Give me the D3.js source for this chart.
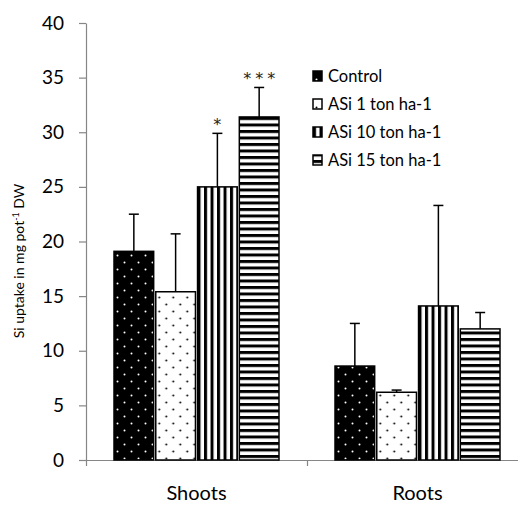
<!DOCTYPE html>
<html><head><meta charset="utf-8">
<script src="https://cdn.jsdelivr.net/npm/d3@7"></script>
<style>body{margin:0;background:#fff}svg{display:block}</style></head>
<body>
<svg id="c" width="518" height="508"></svg>
<script>
const categories = ["Shoots", "Roots"];
const seriesNames = ["Control", "ASi 1 ton ha-1", "ASi 10 ton ha-1", "ASi 15 ton ha-1"];
const controlValues = [19.1, 8.6];
const asi1Values = [15.4, 6.2];
const asi10Values = [25.0, 14.1];
const asi15Values = [31.4, 12.0];
const controlErr = [3.4, 3.9];
const asi1Err = [5.3, 0.2];
const asi10Err = [4.9, 9.2];
const asi15Err = [2.7, 1.5];
const significance = [["", "", "*", "***"], ["", "", "", ""]];
const yTicks = [0, 5, 10, 15, 20, 25, 30, 35, 40];

const seriesValues = [controlValues, asi1Values, asi10Values, asi15Values];
const seriesErrs = [controlErr, asi1Err, asi10Err, asi15Err];
const patternIds = ["pCtrl", "pAsi1", "pAsi10", "pAsi15"];
const FONT = "Lato, 'Open Sans', sans-serif";

const svg = d3.select("#c");
const defs = svg.append("defs");
// Control: black with white dots
let p = defs.append("pattern").attr("id", "pCtrl").attr("patternUnits", "userSpaceOnUse").attr("width", 14).attr("height", 14);
p.append("rect").attr("width", 14).attr("height", 14).attr("fill", "#000");
p.append("circle").attr("cx", 3.5).attr("cy", 3.5).attr("r", 1).attr("fill", "#fff");
p.append("circle").attr("cx", 10.5).attr("cy", 10.5).attr("r", 1).attr("fill", "#fff");
// ASi1: white with black dots
p = defs.append("pattern").attr("id", "pAsi1").attr("patternUnits", "userSpaceOnUse").attr("width", 14).attr("height", 14);
p.append("rect").attr("width", 14).attr("height", 14).attr("fill", "#fff");
p.append("circle").attr("cx", 3.5).attr("cy", 3.5).attr("r", 1).attr("fill", "#000");
p.append("circle").attr("cx", 10.5).attr("cy", 10.5).attr("r", 1).attr("fill", "#000");
// ASi10: vertical stripes
p = defs.append("pattern").attr("id", "pAsi10").attr("patternUnits", "userSpaceOnUse").attr("width", 6.5).attr("height", 6.5);
p.append("rect").attr("width", 6.5).attr("height", 6.5).attr("fill", "#fff");
p.append("rect").attr("x", 0).attr("width", 3).attr("height", 6.5).attr("fill", "#000");
// ASi15: horizontal stripes
p = defs.append("pattern").attr("id", "pAsi15").attr("patternUnits", "userSpaceOnUse").attr("width", 6.5).attr("height", 6.5);
p.append("rect").attr("width", 6.5).attr("height", 6.5).attr("fill", "#fff");
p.append("rect").attr("y", 0).attr("width", 6.5).attr("height", 3).attr("fill", "#000");

const x0 = 86, yBase = 460, yTop = 23;
const y = d3.scaleLinear().domain([0, 40]).range([yBase, yTop]);
const xCat = d3.scaleBand().domain(categories).range([x0, x0 + 221 * 2]).padding(0);
const xSer = d3.scaleBand().domain(seriesNames).range([28, 193]).paddingInner(0.05);

// Y axis
const gy = svg.append("g").attr("transform", `translate(${x0},0)`)
  .call(d3.axisLeft(y).tickValues(yTicks).tickSize(7).tickSizeOuter(0).tickPadding(15));
gy.select(".domain").attr("stroke", "#868686").attr("stroke-width", 1.2);
gy.selectAll(".tick line").attr("stroke", "#868686").attr("stroke-width", 1.2);
gy.selectAll(".tick text").attr("font-family", FONT).attr("font-size", 19).attr("fill", "#000");

// X axis line with boundary ticks
const xb = d3.scaleLinear().domain([0, 2]).range([x0, x0 + 442]);
const gx = svg.append("g").attr("transform", `translate(0,${yBase})`)
  .call(d3.axisBottom(xb).tickValues([0, 1, 2]).tickSize(6).tickSizeOuter(0).tickFormat(""));
gx.select(".domain").attr("stroke", "#868686").attr("stroke-width", 1.2);
gx.selectAll(".tick line").attr("stroke", "#868686").attr("stroke-width", 1.2);
const gxl = svg.append("g").attr("transform", `translate(0,${yBase})`)
  .call(d3.axisBottom(xCat).tickSize(0).tickPadding(26));
gxl.select(".domain").remove();
gxl.selectAll(".tick text").attr("font-family", FONT).attr("font-size", 20).attr("fill", "#000");

// Bars
const rows = [];
categories.forEach((c, ci) => seriesNames.forEach((s, si) => rows.push({
  c, s, si, v: seriesValues[si][ci], e: seriesErrs[si][ci], sig: significance[ci][si]
})));
const bars = svg.append("g").selectAll("g").data(rows).join("g")
  .attr("transform", d => `translate(${xCat(d.c) + xSer(d.s)},0)`);
const bw = xSer.bandwidth();
// error bars (behind)
bars.append("line").attr("x1", bw / 2).attr("x2", bw / 2)
  .attr("y1", d => y(d.v)).attr("y2", d => y(d.v + d.e)).attr("stroke", "#000").attr("stroke-width", 1.5);
bars.append("line").attr("x1", bw / 2 - 5).attr("x2", bw / 2 + 5)
  .attr("y1", d => y(d.v + d.e)).attr("y2", d => y(d.v + d.e)).attr("stroke", "#000").attr("stroke-width", 1.5);
bars.append("rect").attr("x", 0).attr("width", bw)
  .attr("y", d => y(d.v)).attr("height", d => yBase - y(d.v))
  .attr("fill", d => `url(#${patternIds[d.si]})`).attr("stroke", "#000").attr("stroke-width", 1.5);
bars.filter(d => d.sig).append("text").attr("x", bw / 2 + 2).attr("y", d => y(d.v + d.e) - 3)
  .attr("text-anchor", "middle").attr("font-family", "'DejaVu Sans', sans-serif").attr("font-size", 16).attr("fill", "#222")
  .attr("letter-spacing", 4).text(d => d.sig);

// Legend
const lg = svg.append("g").attr("transform", "translate(313,0)");
const li = lg.selectAll("g").data(seriesNames).join("g").attr("transform", (d, i) => `translate(0,${76 + i * 28})`);
li.append("rect").attr("x", 0).attr("y", -5).attr("width", 9).attr("height", 10)
  .attr("fill", (d, i) => `url(#${patternIds[i]})`).attr("stroke", "#000").attr("stroke-width", 1.5);
li.append("text").attr("x", 15).attr("y", 0).attr("dy", "0.35em")
  .attr("font-family", FONT).attr("font-size", 16.5).attr("fill", "#000").text(d => d);

// Y title
const yt = svg.append("text").attr("transform", "translate(24,261) rotate(-90)")
  .attr("text-anchor", "middle").attr("font-family", FONT).attr("font-size", 14).attr("fill", "#000");
yt.append("tspan").text("Si uptake in mg pot");
yt.append("tspan").attr("font-size", 9).attr("dy", -5).text("-1");
yt.append("tspan").attr("dy", 5).text(" DW");
</script>
</body></html>
